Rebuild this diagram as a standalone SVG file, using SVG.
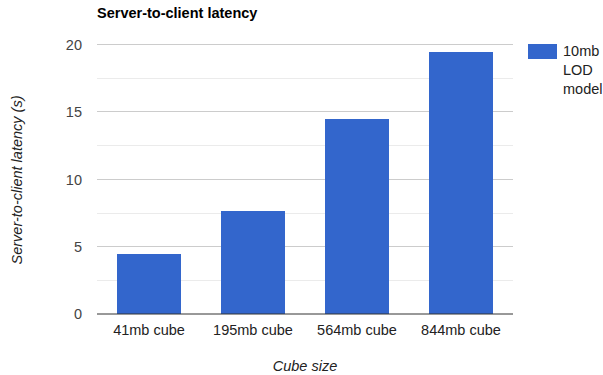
<svg xmlns="http://www.w3.org/2000/svg" width="603" height="375" viewBox="0 0 603 375">
<style>
text{font-family:"Liberation Sans",Arial,sans-serif;font-size:14.5px}
.xl{fill:#222;text-anchor:middle}
.yl{fill:#444;text-anchor:end}
.ax{fill:#222;font-style:italic}
.maj{stroke:#cccccc;stroke-width:1}
.min{stroke:#ebebeb;stroke-width:1}
.bar{fill:#3366cc}
</style>
<rect width="603" height="375" fill="#fff"/>
<text x="97" y="18" font-weight="bold" fill="#000">Server-to-client latency</text>
<g id="grid">
<line class="min" x1="97" y1="280.5" x2="513" y2="280.5"/>
<line class="min" x1="97" y1="213.5" x2="513" y2="213.5"/>
<line class="min" x1="97" y1="145.5" x2="513" y2="145.5"/>
<line class="min" x1="97" y1="78.5" x2="513" y2="78.5"/>
<line class="maj" x1="97" y1="246.5" x2="513" y2="246.5"/>
<line class="maj" x1="97" y1="179.5" x2="513" y2="179.5"/>
<line class="maj" x1="97" y1="111.5" x2="513" y2="111.5"/>
<line class="maj" x1="97" y1="44.5" x2="513" y2="44.5"/>
</g>
<g id="yticks">
<text class="yl" x="82" y="319">0</text>
<text class="yl" x="82" y="252">5</text>
<text class="yl" x="82" y="185">10</text>
<text class="yl" x="82" y="117">15</text>
<text class="yl" x="82" y="50">20</text>
</g>
<g id="bar-41mb"><rect class="bar" x="117" y="254" width="64" height="60"/></g>
<g id="bar-195mb"><rect class="bar" x="221" y="211" width="64" height="103"/></g>
<g id="bar-564mb"><rect class="bar" x="325" y="119" width="64" height="195"/></g>
<g id="bar-844mb"><rect class="bar" x="429" y="52" width="64" height="262"/></g>
<line x1="97" y1="314" x2="513" y2="314" stroke="#333" stroke-width="1"/>
<g id="xticks">
<text class="xl" x="149" y="335">41mb cube</text>
<text class="xl" x="253" y="335">195mb cube</text>
<text class="xl" x="357" y="335">564mb cube</text>
<text class="xl" x="461" y="335">844mb cube</text>
</g>
<text class="ax" x="305" y="371" text-anchor="middle">Cube size</text>
<text class="ax" transform="translate(22,180) rotate(-90)" text-anchor="middle">Server-to-client latency (s)</text>
<g id="legend">
<rect class="bar" x="528" y="44" width="29" height="15"/>
<text fill="#222" x="563" y="56">10mb</text>
<text fill="#222" x="563" y="75">LOD</text>
<text fill="#222" x="563" y="94">model</text>
</g>
</svg>
